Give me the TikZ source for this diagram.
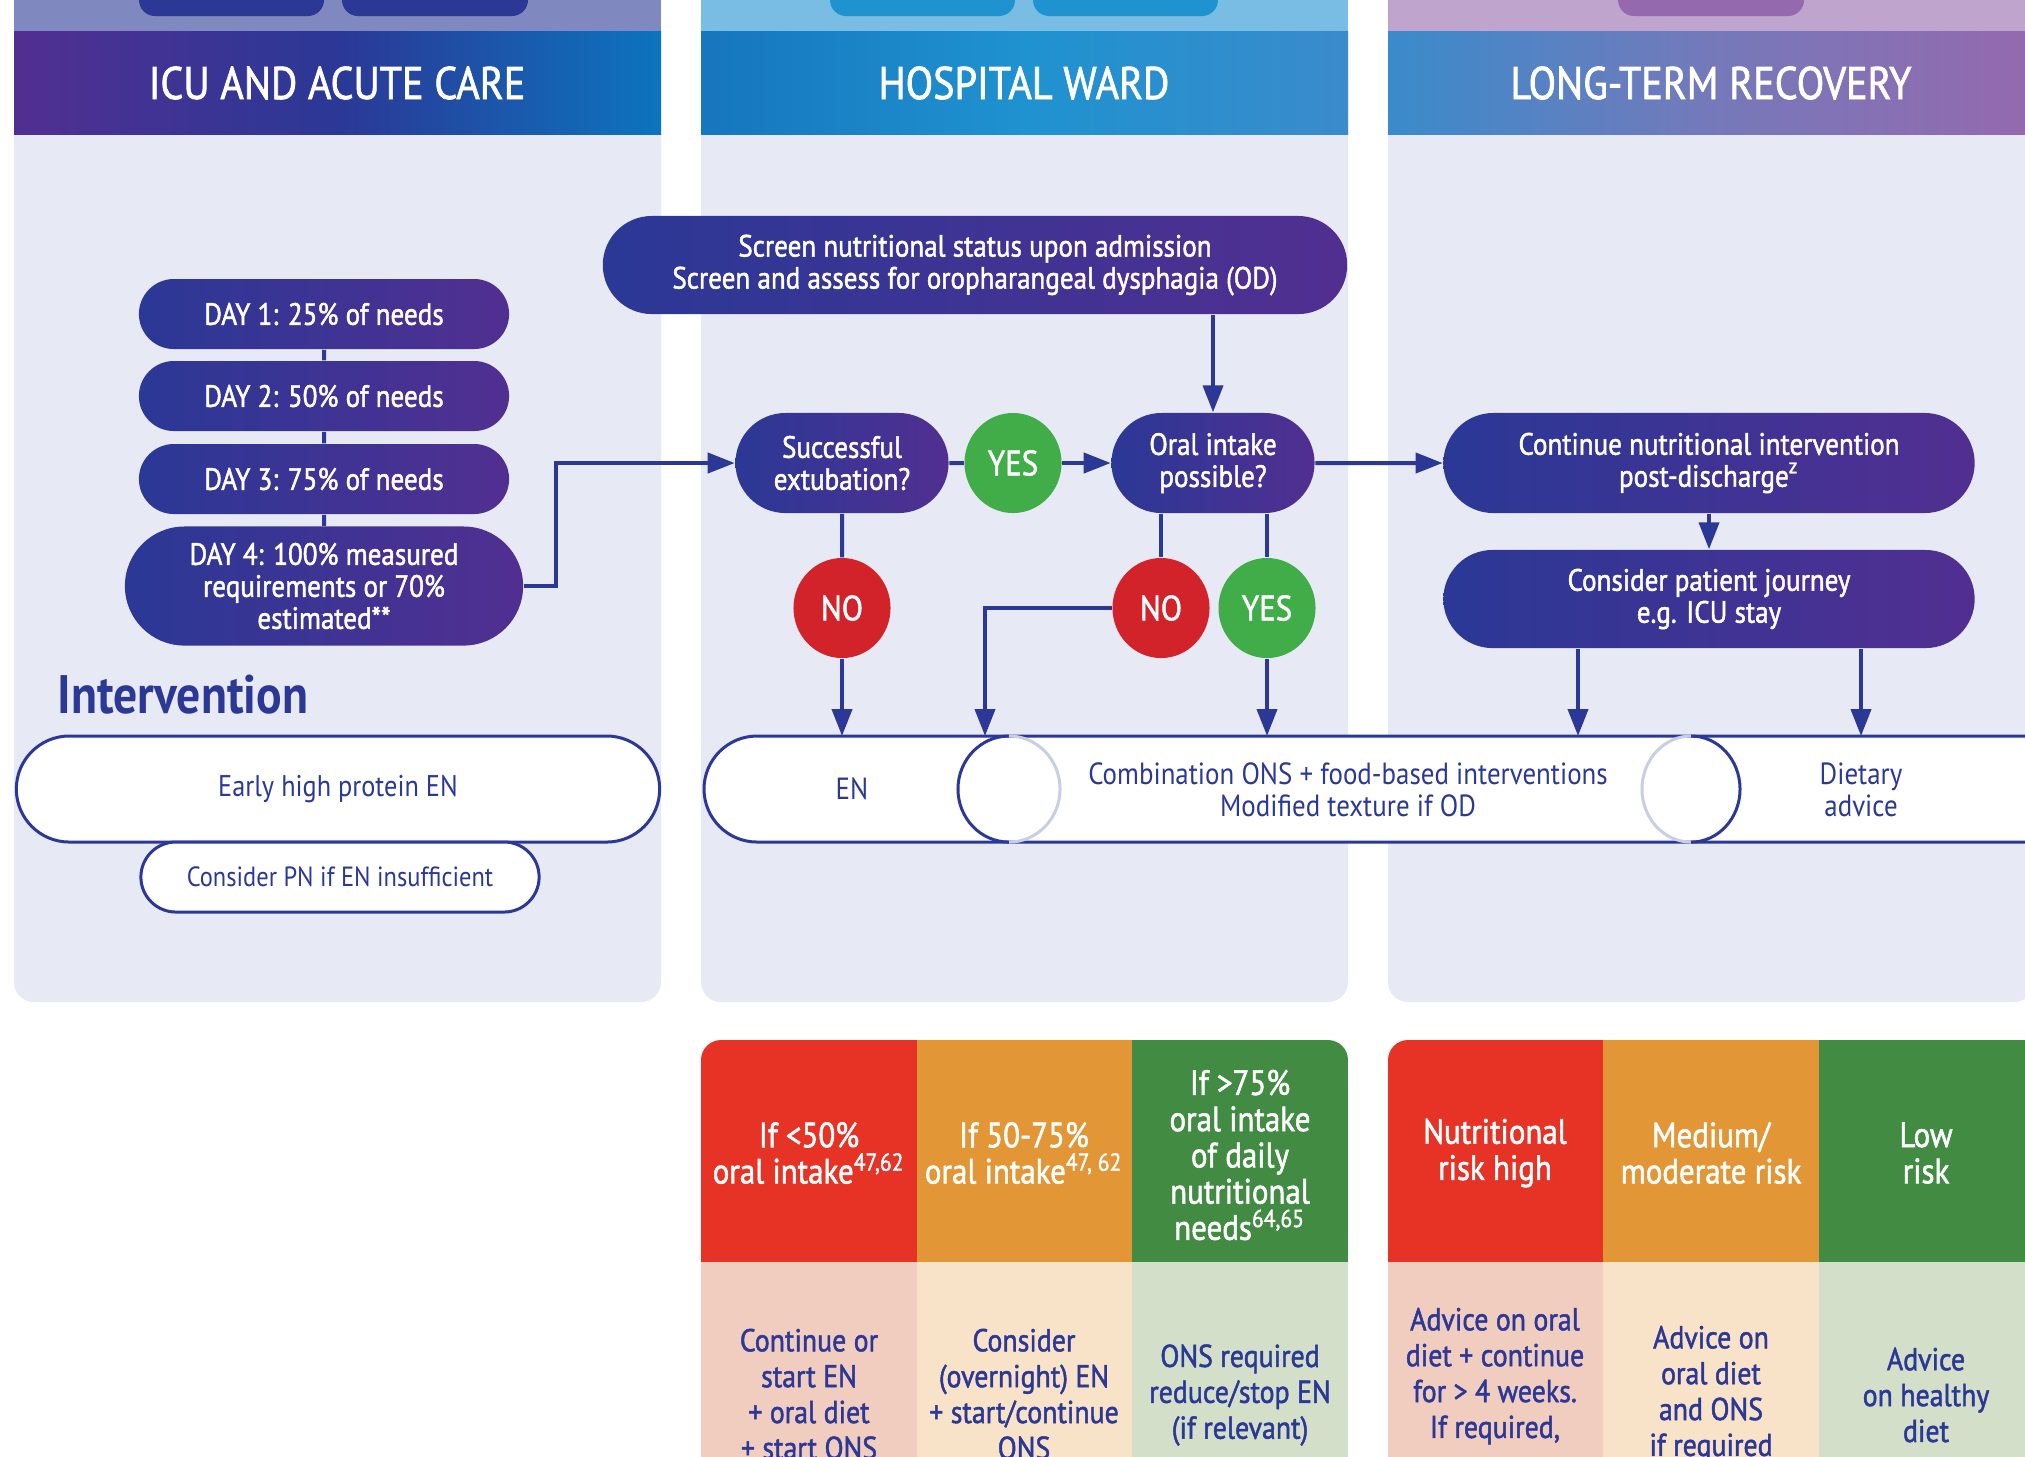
\documentclass[tikz,border=0pt]{standalone}
\usepackage{fontspec}
\setmainfont[FakeStretch=0.88]{PT Sans}
\newfontfamily\medfont[FakeStretch=0.88, FakeBold=1.5]{PT Sans}
\usetikzlibrary{arrows.meta,shapes.geometric,shapes.misc}
\definecolor{navy}{HTML}{2B3896}
\definecolor{plum}{HTML}{512F91}
\definecolor{panelbg}{HTML}{E7E9F4}
\definecolor{bandicu}{HTML}{7F88BF}
\definecolor{bandward}{HTML}{79BCE4}
\definecolor{tabward}{HTML}{1F93D0}
\definecolor{bandrec}{HTML}{BFA4CD}
\definecolor{tabrec}{HTML}{9569AE}
\definecolor{icublue}{HTML}{0C74BE}
\definecolor{wardleft}{HTML}{1676BE}
\definecolor{wardmid}{HTML}{1F92D0}
\definecolor{wardright}{HTML}{3A8BCB}
\definecolor{recmid}{HTML}{7579BA}
\definecolor{okgreen}{HTML}{41AD49}
\definecolor{nored}{HTML}{D2232A}
\definecolor{thred}{HTML}{E63325}
\definecolor{thorange}{HTML}{E29635}
\definecolor{thgreen}{HTML}{418B42}
\definecolor{tbred}{HTML}{F1CDBF}
\definecolor{tborange}{HTML}{F8E3C8}
\definecolor{tbgreen}{HTML}{D3DFC8}
\definecolor{rimlight}{HTML}{C9CDE5}
\tikzset{
  pill/.style={rounded rectangle, left color=navy, right color=plum, text=white, align=center, inner sep=0pt, font=\medfont\fontsize{8.75}{9.1}\selectfont},
  whitepill/.style={rounded rectangle, draw=navy, line width=0.03cm, fill=white, text=navy, align=center, inner sep=0pt, font=\fontsize{7.9}{9}\selectfont},
  yesdot/.style={ellipse, fill=okgreen, text=white, minimum width=0.97cm, minimum height=1cm, inner sep=0pt, font=\medfont\fontsize{10}{11}\selectfont},
  nodot/.style={yesdot, fill=nored},
  hdr/.style={text=white, font=\medfont\fontsize{13}{14}\selectfont},
  bartext/.style={text=navy, align=center, font=\fontsize{8.7}{9.1}\selectfont},
  tabhead/.style={text=white, align=center, font=\medfont\fontsize{10}{10.3}\selectfont},
  tabbody/.style={text=navy, align=center, font=\medfont\fontsize{9}{10.2}\selectfont},
  link/.style={draw=navy, line width=0.04cm},
  arr/.style={link, -{Triangle[length=0.27cm, width=0.2cm]}},
}

\begin{document}
\begin{tikzpicture}[x=0.01cm, y=-0.01cm]
		%%%%% START %%%%%
		\useasboundingbox (0,0) rectangle (2025,1456);
		\clip (0,0) rectangle (2025,1456);
		
		% panels
		\fill[panelbg, rounded corners=0.2cm] (14,60) rectangle (661,1002);
		\fill[panelbg, rounded corners=0.2cm] (701,60) rectangle (1348,1002);
		\fill[panelbg, rounded corners=0.2cm] (1388,60) rectangle (2034,1002);
		
		\fill[bandicu] (14,0) rectangle (661,31);
		\fill[navy, rounded corners=0.16cm] (139,-40) rectangle (324,16);
		\fill[navy, rounded corners=0.16cm] (342,-40) rectangle (528,16);
		\fill[bandward] (701,0) rectangle (1348,31);
		\fill[tabward, rounded corners=0.16cm] (830,-40) rectangle (1015,16);
		\fill[tabward, rounded corners=0.16cm] (1033,-40) rectangle (1218,16);
		\fill[bandrec] (1388,0) rectangle (2034,31);
		\fill[tabrec, rounded corners=0.16cm] (1618,-40) rectangle (1804,16);
		
		\shade[left color=plum, right color=icublue, middle color=navy] (14,31) rectangle (661,134);
		\shade[left color=wardleft, right color=wardright, middle color=wardmid] (701,31) rectangle (1348,134);
		\shade[left color=wardright, right color=tabrec, middle color=recmid] (1388,31) rectangle (2034,134);
		
		\node[hdr] (icu) at (337,83) {ICU AND ACUTE CARE};
		\node[hdr] (ward) at (1024,83) {HOSPITAL WARD};
		\node[hdr] (rec) at (1711,83) {LONG-TERM RECOVERY};
		
		% ICU column
		\node[pill, minimum width=3.7cm, minimum height=0.7cm] (day1) at (324,314) {DAY 1: 25\% of needs};
		\node[pill, minimum width=3.7cm, minimum height=0.7cm] (day2) at (324,396) {DAY 2: 50\% of needs};
		\node[pill, minimum width=3.7cm, minimum height=0.7cm] (day3) at (324,479) {DAY 3: 75\% of needs};
		\node[pill, minimum width=3.98cm, minimum height=1.19cm] (day4) at (324,586) {DAY 4: 100\% measured\\requirements or 70\%\\estimated**};
		\draw[link] (day1) -- (day2);
		\draw[link] (day2) -- (day3);
		\draw[link] (day3) -- (day4);
		
		\node[anchor=west, inner sep=0pt, text=navy, font=\fontsize{15.4}{17}\selectfont\bfseries] (intv) at (57,695) {Intervention};
		\node[whitepill, minimum width=6.43cm, minimum height=1.06cm, font=\fontsize{8.5}{9}\selectfont] (early) at (338,789) {Early high protein EN};
		\node[whitepill, minimum width=3.98cm, minimum height=0.7cm] (pn) at (340,877) {Consider PN if EN insufficient};
		
		% ward column
		\node[pill, minimum width=7.44cm, minimum height=0.98cm] (screen) at (975,265) {Screen nutritional status upon admission\\Screen and assess for oropharangeal dysphagia (OD)};
		\node[pill, minimum width=2.13cm, minimum height=1cm] (ext) at (842,463) {Successful\\extubation?};
		\node[yesdot] (yes1) at (1013,463) {YES};
		\node[pill, minimum width=2.03cm, minimum height=1cm] (oral) at (1213,463) {Oral intake\\possible?};
		\node[nodot] (no1) at (842,608) {NO};
		\node[nodot] (no2) at (1161,608) {NO};
		\node[yesdot] (yes2) at (1267,608) {YES};
		
		% recovery column
		\node[pill, minimum width=5.31cm, minimum height=1cm] (cont) at (1709,463) {Continue nutritional intervention\\post-discharge\textsuperscript{z}};
		\node[pill, minimum width=5.31cm, minimum height=0.98cm] (journey) at (1709,599) {Consider patient journey\\e.g. ICU stay};
		
		% intervention bar
		\draw[navy, line width=0.03cm, fill=white, rounded corners=0.53cm] (704,736) rectangle (2090,842);
		\draw[navy, line width=0.03cm] (1009,736) arc[start angle=90, end angle=270, x radius=0.51cm, y radius=0.53cm];
		\draw[rimlight, line width=0.03cm] (1009,736) arc[start angle=90, end angle=-90, x radius=0.51cm, y radius=0.53cm];
		\draw[rimlight, line width=0.03cm] (1691,736) arc[start angle=90, end angle=270, x radius=0.49cm, y radius=0.53cm];
		\draw[navy, line width=0.03cm] (1691,736) arc[start angle=90, end angle=-90, x radius=0.49cm, y radius=0.53cm];
		\node[bartext] (en) at (852,789) {EN};
		\node[bartext] (combo) at (1348,790) {Combination ONS + food-based interventions\\Modified texture if OD};
		\node[bartext] (diet) at (1861,790) {Dietary\\advice};
		\coordinate (bartop) at (0,736);
		\coordinate (comboin) at (985,736);
		\coordinate (j1) at (1578,736);
		\coordinate (j2) at (1861,736);
		
		% connectors
		\draw[arr] (day4.east) -- ++(32,0) |- (ext.west);
		\draw[link] (ext) -- (yes1);
		\draw[arr] (yes1) -- (oral);
		\draw[arr] (oral.north |- screen.south) -- (oral.north);
		\draw[link] (ext) -- (no1);
		\draw[arr] (no1.south) -- (no1.south |- bartop);
		\draw[link] (no2 |- oral.south) -- (no2.north);
		\draw[link] (yes2 |- oral.south) -- (yes2.north);
		\draw[arr] (no2.west) -| (comboin);
		\draw[arr] (yes2.south) -- (yes2.south |- bartop);
		\draw[arr] (oral) -- (cont);
		\draw[arr] (cont.south) -- (journey.north);
		\draw[arr] (journey.south -| j1) -- (j1);
		\draw[arr] (journey.south -| j2) -- (j2);
		
		% tables
		\begin{scope}
			\clip[rounded corners=0.2cm] (701,1040) rectangle (1348,1700);
			\fill[thred] (701,1040) rectangle (917,1262);
			\fill[thorange] (917,1040) rectangle (1132,1262);
			\fill[thgreen] (1132,1040) rectangle (1348,1262);
			\fill[tbred] (701,1262) rectangle (917,1700);
			\fill[tborange] (917,1262) rectangle (1132,1700);
			\fill[tbgreen] (1132,1262) rectangle (1348,1700);
		\end{scope}
		\begin{scope}
			\clip[rounded corners=0.2cm] (1388,1040) rectangle (2100,1700);
			\fill[thred] (1388,1040) rectangle (1603,1262);
			\fill[thorange] (1603,1040) rectangle (1819,1262);
			\fill[thgreen] (1819,1040) rectangle (2100,1262);
			\fill[tbred] (1388,1262) rectangle (1603,1700);
			\fill[tborange] (1603,1262) rectangle (1819,1700);
			\fill[tbgreen] (1819,1262) rectangle (2100,1700);
		\end{scope}
		
		\node[tabhead] (lt50) at (809,1153) {If <50\%\\oral intake\textsuperscript{47,62}};
		\node[tabhead] (mid50) at (1024,1153) {If 50-75\%\\oral intake\textsuperscript{47, 62}};
		\node[tabhead] (gt75) at (1240,1155) {If >75\%\\oral intake\\of daily\\nutritional\\needs\textsuperscript{64,65}};
		\node[tabbody] (act1) at (809,1394) {Continue or\\start EN\\+ oral diet\\+ start ONS};
		\node[tabbody] (act2) at (1024,1394) {Consider\\(overnight) EN\\+ start/continue\\ONS};
		\node[tabbody] (act3) at (1240,1395) {ONS required\\reduce/stop EN\\(if relevant)};
		
		\node[tabhead] (riskhi) at (1495,1153) {Nutritional\\risk high};
		\node[tabhead] (riskmid) at (1711,1153) {Medium/\\moderate risk};
		\node[tabhead] (risklo) at (1926,1153) {Low\\risk};
		\node[tabbody] (adv1) at (1495,1376) {Advice on oral\\diet + continue\\for > 4 weeks.\\If required,};
		\node[tabbody] (adv2) at (1711,1394) {Advice on\\oral diet\\and ONS\\if required};
		\node[tabbody] (adv3) at (1926,1395) {Advice\\on healthy\\diet};
		%%%%% END %%%%%
\end{tikzpicture}
\end{document}
